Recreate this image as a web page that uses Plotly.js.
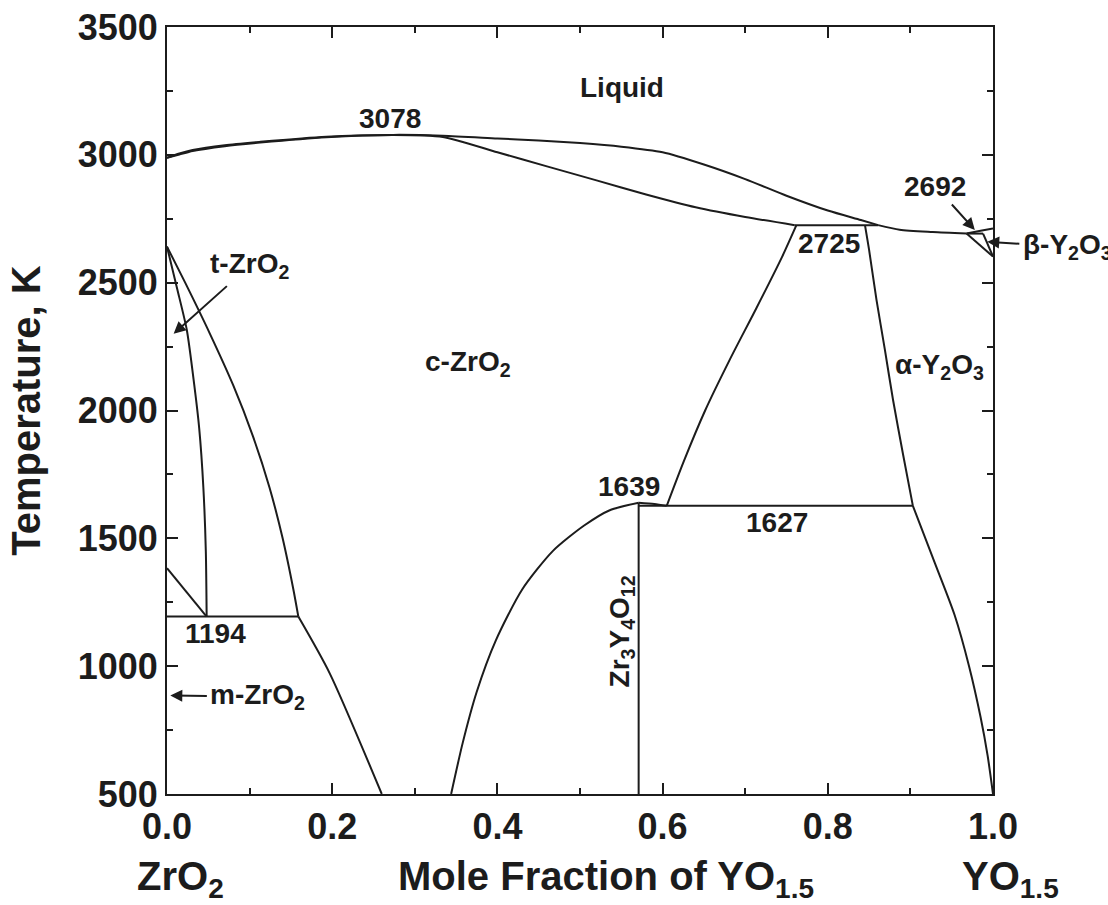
<!DOCTYPE html>
<html>
<head>
<meta charset="utf-8">
<script src="https://cdn.plot.ly/plotly-3.0.1.min.js"></script>
<style>html,body{margin:0;padding:0;background:#fff;}#chart{width:1108px;height:905px;}</style>
</head>
<body>
<div id="chart"></div>
<script>
// ---- Phase boundary data (mole fraction YO1.5, temperature K) ----
const liquidusX = [0, 0.015, 0.031, 0.07, 0.113, 0.193, 0.274, 0.334, 0.40, 0.45, 0.50, 0.55, 0.60, 0.65, 0.70, 0.75, 0.80, 0.84, 0.861];
const liquidusT = [2988, 3005, 3019, 3038, 3051, 3071, 3078, 3075, 3064, 3056, 3046, 3032, 3010, 2962, 2905, 2840, 2782, 2745, 2725];

const solidusX = [0, 0.015, 0.031, 0.07, 0.113, 0.193, 0.274, 0.334, 0.40, 0.46, 0.52, 0.58, 0.64, 0.70, 0.760];
const solidusT = [2988, 3001, 3015, 3034, 3048, 3069, 3078, 3070, 3010, 2955, 2900, 2845, 2795, 2757, 2725];

const eut2725X = [0.760, 0.861];
const eut2725T = [2725, 2725];

const liqRightX = [0.861, 0.887, 0.927, 0.968];
const liqRightT = [2725, 2707, 2698, 2692];

const liqEndX = [0.968, 0.985, 1.0];
const liqEndT = [2692, 2703, 2712];

const per2692X = [0.968, 0.988];
const per2692T = [2692, 2692];

const betaLeftX = [0.968, 1.0];
const betaLeftT = [2692, 2602];

const betaRightX = [0.988, 1.0];
const betaRightT = [2692, 2602];

const alphaUpperX = [0.845, 0.850, 0.859, 0.869, 0.879, 0.891, 0.903];
const alphaUpperT = [2725, 2628, 2432, 2240, 2041, 1830, 1627];

const alphaLowerX = [0.903, 0.930, 0.9535, 0.971, 0.985, 0.9935, 1.0];
const alphaLowerT = [1627, 1400, 1200, 1000, 800, 650, 500];

const cubicRightX = [0.762, 0.7445, 0.7135, 0.6815, 0.6515, 0.6255, 0.605];
const cubicRightT = [2725, 2600, 2400, 2200, 2000, 1800, 1627];

const eut1627X = [0.571, 0.903];
const eut1627T = [1627, 1627];

const topCompX = [0.571, 0.59, 0.605];
const topCompT = [1639, 1634, 1627];

const domeX = [0.344, 0.358, 0.375, 0.398, 0.430, 0.467, 0.505, 0.536, 0.571];
const domeT = [500, 700, 900, 1100, 1300, 1450, 1550, 1610, 1639];

const compoundX = [0.571, 0.571];
const compoundT = [500, 1639];

const cubicLeftX = [0, 0.022, 0.052, 0.080, 0.104, 0.124, 0.140, 0.153, 0.159];
const cubicLeftT = [2641, 2500, 2300, 2100, 1900, 1700, 1500, 1300, 1194];

const tetraX = [0, 0.012, 0.024, 0.033, 0.039, 0.044, 0.047, 0.048];
const tetraT = [2641, 2480, 2315, 2100, 1930, 1700, 1450, 1194];

const monoX = [0, 0.048];
const monoT = [1383, 1194];

const eut1194X = [0, 0.159];
const eut1194T = [1194, 1194];

const cubicLowX = [0.159, 0.197, 0.260];
const cubicLowT = [1194, 972, 500];

// ---- labels ----
const labelText = ['Liquid', '3078', '2725', 'c-ZrO<sub>2</sub>', '1639', '1627', '1194', '\u03b1-Y<sub>2</sub>O<sub>3</sub>'];
const labelX = [0.551, 0.270, 0.801, 0.364, 0.559, 0.739, 0.059, 0.935];
const labelT = [3262, 3144, 2655, 2185, 1701, 1560, 1126, 2172];

// labels with an arrow: text centre (tail side) and arrow head
const arrowText = ['t-ZrO<sub>2</sub>', 'm-ZrO<sub>2</sub>', '2692', '\u03b2-Y<sub>2</sub>O<sub>3</sub>'];
const arrowTextX = [0.100, 0.110, 0.930, 1.090];
const arrowTextT = [2566, 880, 2878, 2640];
const arrowHeadX = [0.008, 0.004, 0.978, 0.993];
const arrowHeadT = [2300, 885, 2706, 2660];

const compoundLabel = 'Zr<sub>3</sub>Y<sub>4</sub>O<sub>12</sub>';
const compoundLabelX = 0.550, compoundLabelT = 1137;

const xTitle = 'Mole Fraction of YO<sub>1.5</sub>';
const yTitle = 'Temperature, K';
const bottomLabels = ['ZrO<sub>2</sub>', xTitle, 'YO<sub>1.5</sub>'];
const bottomLabelX = [0.016, 0.532, 1.021];

// ---- build traces ----
const ink = '#1c1c1c';
const FAM = 'Liberation Sans, Arial, sans-serif';
const segs = [
  [liquidusX, liquidusT], [solidusX, solidusT], [eut2725X, eut2725T],
  [liqRightX, liqRightT], [liqEndX, liqEndT], [per2692X, per2692T],
  [betaLeftX, betaLeftT], [betaRightX, betaRightT],
  [alphaUpperX, alphaUpperT], [alphaLowerX, alphaLowerT],
  [cubicRightX, cubicRightT], [eut1627X, eut1627T], [topCompX, topCompT],
  [domeX, domeT], [compoundX, compoundT],
  [cubicLeftX, cubicLeftT], [tetraX, tetraT], [monoX, monoT],
  [eut1194X, eut1194T], [cubicLowX, cubicLowT]
];
const traces = segs.map(s => ({
  x: s[0], y: s[1], type: 'scatter', mode: 'lines',
  line: {color: ink, width: 2, shape: 'spline', smoothing: 0.7},
  hoverinfo: 'skip'
}));

const fontLab = {family: FAM, size: 28, color: ink, weight: 'bold'};
const ann = [];
labelText.forEach((t, i) => ann.push({x: labelX[i], y: labelT[i], xref: 'x', yref: 'y', text: t, showarrow: false, font: fontLab, xanchor: 'center', yanchor: 'middle'}));
arrowText.forEach((t, i) => ann.push({
  x: arrowHeadX[i], y: arrowHeadT[i], xref: 'x', yref: 'y',
  ax: arrowTextX[i], ay: arrowTextT[i], axref: 'x', ayref: 'y',
  text: t, font: fontLab, showarrow: true, arrowhead: 2, arrowsize: 1.2, arrowwidth: 2,
  arrowcolor: ink, standoff: 0, startstandoff: 2
}));
ann.push({x: compoundLabelX, y: compoundLabelT, xref: 'x', yref: 'y', text: compoundLabel, textangle: -90, showarrow: false, font: fontLab, xanchor: 'center', yanchor: 'middle'});
bottomLabels.forEach((t, i) => ann.push({x: bottomLabelX[i], y: -0.075, xref: 'paper', yref: 'paper', text: t, showarrow: false, xanchor: 'center', yanchor: 'top', font: {family: FAM, size: 40, color: ink, weight: 'bold'}}));

const axisCommon = {
  ticks: 'inside', tickwidth: 2, tickcolor: ink, showline: true, linewidth: 2, linecolor: ink,
  mirror: 'ticks', showgrid: false, zeroline: false,
  tickfont: {family: FAM, size: 36, color: ink, weight: 'bold'}
};

const layout = {
  width: 1108, height: 905,
  margin: {l: 167, r: 115, t: 27, b: 111, pad: 0},
  paper_bgcolor: '#ffffff', plot_bgcolor: '#ffffff',
  showlegend: false,
  font: {family: FAM, color: ink},
  xaxis: Object.assign({}, axisCommon, {
    range: [0, 1], tick0: 0, dtick: 0.2, tickformat: '.1f', ticklen: 11,
    minor: {dtick: 0.1, ticklen: 6, tickwidth: 2, tickcolor: ink, ticks: 'inside', showgrid: false}
  }),
  yaxis: Object.assign({}, axisCommon, {
    range: [500, 3500], tick0: 500, dtick: 500, ticklen: 11,
    minor: {dtick: 250, ticklen: 6, tickwidth: 2, tickcolor: ink, ticks: 'inside', showgrid: false},
    title: {text: yTitle, font: {family: FAM, size: 40, color: ink, weight: 'bold'}, standoff: 25}
  }),
  annotations: ann
};

Plotly.newPlot('chart', traces, layout, {displayModeBar: false, staticPlot: true});
</script>
</body>
</html>
